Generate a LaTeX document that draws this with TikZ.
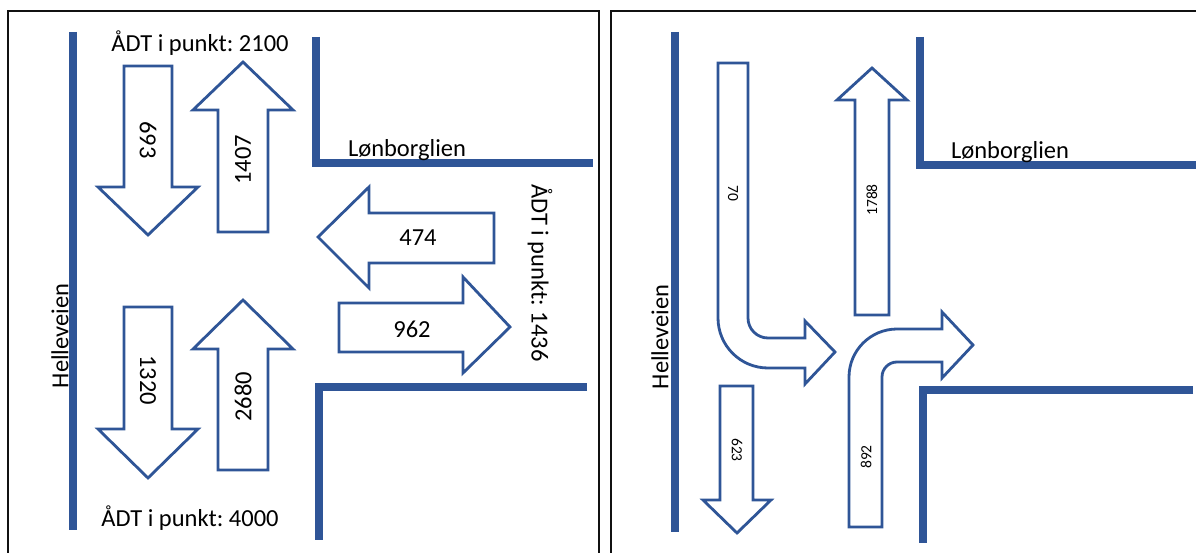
\documentclass[tikz,border=0pt]{standalone}
\usepackage{fontspec}
\setmainfont{Carlito}
\usepackage{tikz}
\definecolor{veiBla}{HTML}{2F5597}
\definecolor{ramme}{HTML}{111111}
\frenchspacing

\begin{document}
\begin{tikzpicture}[x=1pt,y=-1pt,
  vei/.style={veiBla,line width=7.5pt},
  pil/.style={veiBla,line width=2.8pt,line join=miter,fill=white},
  boks/.style={ramme,line width=1.8pt},
  tekst/.style={inner sep=0pt,font=\fontsize{24.5}{26}\selectfont},
  smatekst/.style={inner sep=0pt,font=\fontsize{15.5}{17}\selectfont}]
\clip (0,0) rectangle (1196,553);
\fill[white] (0,0) rectangle (1196,553);
% venstre: ADT
\begin{scope}
\draw[boks] (8,11) rectangle (599,575);
\draw[vei] (73,32)--(73,530);
\draw[vei] (316,37)--(316,163)--(593,163);
\draw[vei] (587,387)--(319,387)--(319,540);
\draw[pil] (124,66)--(172,66)--(172,187)--(198,187)--(148,235)--(98,187)--(124,187)--cycle;
\draw[pil] (218,232)--(268,232)--(268,110)--(293,110)--(243,62)--(193,110)--(218,110)--cycle;
\draw[pil] (124,307)--(172,307)--(172,429)--(198,429)--(148,478)--(98,429)--(124,429)--cycle;
\draw[pil] (218,470)--(268,470)--(268,349)--(293,349)--(243,300)--(193,349)--(218,349)--cycle;
\draw[pil] (494,213)--(369,213)--(369,187)--(318,237)--(369,288)--(369,263)--(494,263)--cycle;
\draw[pil] (339,303)--(463,303)--(463,277)--(510,327)--(463,373)--(463,352)--(339,352)--cycle;
\node[tekst] (adtNord) at (200,43) {ÅDT i punkt: 2100};
\node[tekst,rotate=-90] (nedNord) at (148,140) {693};
\node[tekst,rotate=90] (oppNord) at (243,160) {1407};
\node[tekst] (lonborgV) at (407,150) {Lønborglien};
\node[tekst] (inn) at (418,238) {474};
\node[tekst] (ut) at (412,329) {962};
\node[tekst,rotate=-90] (adtOst) at (540,273) {ÅDT i punkt: 1436};
\node[tekst,rotate=-90] (nedSor) at (148,380) {1320};
\node[tekst,rotate=90] (oppSor) at (243,397) {2680};
\node[tekst,rotate=90] (helleV) at (60,336) {Helleveien};
\node[tekst] (adtSor) at (190,518) {ÅDT i punkt: 4000};
\end{scope}
% hoyre: svingebevegelser
\begin{scope}
\draw[boks] (611,11) rectangle (1215,575);
\draw[vei] (675,32)--(675,532);
\draw[vei] (920,37)--(920,165)--(1200,165);
\draw[vei] (1193,390)--(923,390)--(923,543);
\draw[pil] (718,63)--(748,63)--(748,318) arc (180:90:20)--(805,338)--(805,321)--(835,352)
  --(805,384)--(805,368)--(768,368) arc (90:180:50)--cycle;
\draw[pil] (855,315)--(889,315)--(889,100)--(907,100)--(872,68)--(837,100)--(855,100)--cycle;
\draw[pil] (849,527)--(849,377) arc (180:270:48)--(942,329)--(942,312)--(973,345)--(942,378)
  --(942,362)--(897,362) arc (270:180:15)--(882,527)--cycle;
\draw[pil] (720,386)--(753,386)--(753,500)--(771,500)--(737,533)--(703,500)--(720,500)--cycle;
\node[smatekst,rotate=-90] (hoyreNed) at (733,193) {70};
\node[smatekst,rotate=90] (rettOpp) at (872,200) {1788};
\node[smatekst,rotate=90] (venstreOpp) at (866,457) {892};
\node[smatekst,rotate=-90] (rettNed) at (737,450) {623};
\node[tekst] (lonborgH) at (1010,152) {Lønborglien};
\node[tekst,rotate=90] (helleH) at (660,337) {Helleveien};
\end{scope}
\end{tikzpicture}
\end{document}
